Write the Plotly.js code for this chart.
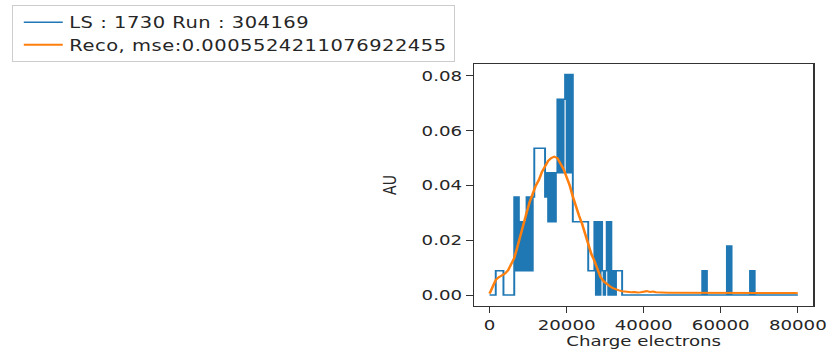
<!DOCTYPE html>
<html><head><meta charset="utf-8">
<script src="https://cdn.plot.ly/plotly-3.0.1.min.js"></script>
<style>
html,body{margin:0;padding:0;background:#fff;overflow:hidden}
/* the reference picture is stretched horizontally; reproduce that stretch */
#chart{width:642px;height:353px;transform:scaleX(1.2991);transform-origin:0 0}
.legendtext{letter-spacing:0.4px}
</style>
</head><body><div id="chart"></div>
<script>
// Histogram: 200 bins of 400 electrons from 0 to 80000 (AU values per bin)
const binStart = 0;
const binWidth = 400;
const histValues = [
  0,0,0,0,0.0089,0.0089,0.0089,0.0089,0.0089,0,
  0,0,0,0,0,0,0.0358,0.0089,0.0358,0.0089,
  0.0268,0.0089,0.0268,0.0089,0.0358,0.0089,0.0358,0.0089,0.0358,0.0536,
  0.0536,0.0536,0.0536,0.0536,0.0536,0.0536,0.0358,0.0447,0.0268,0.0447,
  0.0268,0.0447,0.0268,0.0447,0.0715,0.0447,0.0715,0.0447,0.0715,0.0805,
  0.0447,0.0805,0.0447,0.0805,0.0268,0.0268,0.0268,0.0268,0.0268,0.0268,
  0.0268,0.0268,0.0268,0.0268,0.0089,0.0089,0.0089,0.0089,0.0268,0,
  0.0268,0,0.0268,0.0089,0,0.0089,0.0268,0,0.0268,0,
  0.0089,0,0.0089,0.0089,0.0089,0.0089,0,0,0,0,
  0,0,0,0,0,0,0,0,0,0,
  0,0,0,0,0,0,0,0,0,0,
  0,0,0,0,0,0,0,0,0,0,
  0,0,0,0,0,0,0,0,0,0,
  0,0,0,0,0,0,0,0,0.0089,0,
  0.0089,0,0,0,0,0,0,0,0,0,
  0,0,0,0,0.0179,0,0.0179,0,0,0,
  0,0,0,0,0,0,0,0,0,0.0089,
  0,0.0089,0,0,0,0,0,0,0,0,
  0,0,0,0,0,0,0,0,0,0,
  0,0,0,0,0,0,0,0,0,0
];
// Reconstruction sampled every 800 electrons from 0 to 80000
const recoStep = 800;
const recoValues = [
  0.0005,0.003,0.0055,0.0065,0.007,0.0078,0.009,0.011,0.0135,0.0175,
  0.022,0.026,0.030,0.034,0.037,0.040,0.042,0.045,0.047,0.049,
  0.050,0.0505,0.050,0.048,0.046,0.043,0.040,0.036,0.032,0.029,
  0.026,0.022,0.018,0.015,0.0125,0.009,0.0065,0.005,0.004,0.0032,
  0.0025,0.002,0.0017,0.0014,0.0012,0.0011,0.001,0.0011,0.0009,0.001,
  0.0012,0.0014,0.0011,0.0013,0.001,0.0009,0.0008,0.0009,0.0008,0.0008,
  0.0008,0.0009,0.0008,0.0007,0.0008,0.0009,0.0008,0.0007,0.0008,0.0009,
  0.0008,0.0007,0.0008,0.0009,0.0008,0.0007,0.0008,0.0007,0.0008,0.0009,
  0.0008,0.0007,0.0008,0.0007,0.0008,0.0009,0.0008,0.0007,0.0008,0.0009,
  0.0008,0.0007,0.0008,0.0007,0.0008,0.0009,0.0008,0.0007,0.0008,0.0007,
  0.0006
];
const xTicks = [0, 20000, 40000, 60000, 80000];
const yTicks = [0, 0.02, 0.04, 0.06, 0.08];
const histName = 'LS : 1730 Run : 304169';
const recoName = 'Reco, mse:0.0005524211076922455';

const hx = [], hy = [];
histValues.forEach((v, i) => { hx.push(binStart + i * binWidth); hy.push(v); });
hx.push(binStart + histValues.length * binWidth); hy.push(histValues[histValues.length - 1]);
const rx = recoValues.map((v, i) => i * recoStep);

const font = {family: 'DejaVu Sans', size: 14, color: '#262626'};
const legendFont = {family: 'DejaVu Sans', size: 15, color: '#262626'};
const traces = [
  {x: hx, y: hy, type: 'scatter', mode: 'lines', line: {shape: 'hv', color: '#1f77b4', width: 1.5}, name: histName},
  {x: rx, y: recoValues, type: 'scatter', mode: 'lines', line: {color: '#ff7f0e', width: 2}, name: recoName}
];
const layout = {
  width: 642, height: 353,
  margin: {l: 365, r: 16, t: 64, b: 47, autoexpand: false},
  paper_bgcolor: '#fff', plot_bgcolor: '#fff',
  font: font,
  showlegend: true,
  legend: {x: -1.3628, y: 1.2438, xanchor: 'left', yanchor: 'top', bgcolor: '#fff', bordercolor: '#cccccc', borderwidth: 1, font: legendFont, indentation: 3},
  xaxis: {range: [-4000, 84000], tickvals: xTicks, tickformat: 'd', ticks: 'outside', ticklen: 6, tickcolor: '#333', showline: true, mirror: true, linecolor: '#333', showgrid: false, zeroline: false,
    title: {text: 'Charge electrons', font: font, standoff: 4}},
  yaxis: {range: [-0.00402, 0.08438], tickvals: yTicks, tickformat: '.2f', ticks: 'outside', ticklen: 5.5, tickcolor: '#333', showline: true, mirror: true, linecolor: '#333', showgrid: false, zeroline: false,
    title: {text: 'AU', font: font, standoff: 15}}
};
Plotly.newPlot('chart', traces, layout, {staticPlot: true});
</script></body></html>
